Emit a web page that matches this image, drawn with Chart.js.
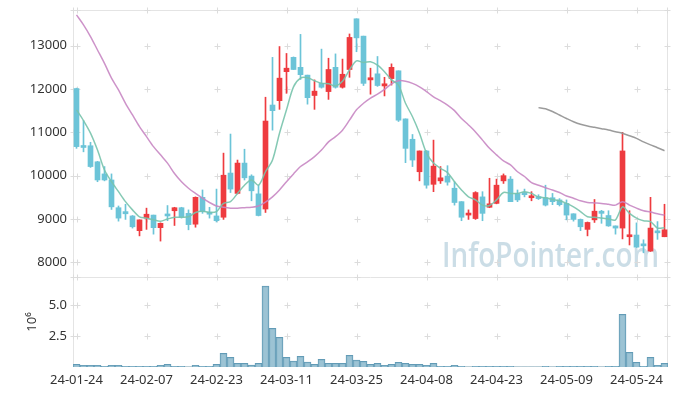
<!DOCTYPE html>
<html><head><meta charset="utf-8">
<script src="https://cdn.jsdelivr.net/npm/chart.js@4/dist/chart.umd.min.js"></script>
<style>html,body{margin:0;padding:0;background:#fff;}#wrap{width:677px;height:396px;}</style>
</head><body><div id="wrap"><canvas id="c" width="677" height="396"></canvas></div>
<script>
const dates = [
 '24-01-24','24-01-25','24-01-26','24-01-29','24-01-30','24-01-31',
 '24-02-01','24-02-02','24-02-05','24-02-06','24-02-07','24-02-08','24-02-13','24-02-14','24-02-15','24-02-16',
 '24-02-19','24-02-20','24-02-21','24-02-22','24-02-23','24-02-26','24-02-27','24-02-28','24-02-29',
 '24-03-04','24-03-05','24-03-06','24-03-07','24-03-08','24-03-11','24-03-12','24-03-13','24-03-14','24-03-15',
 '24-03-18','24-03-19','24-03-20','24-03-21','24-03-22','24-03-25','24-03-26','24-03-27','24-03-28','24-03-29',
 '24-04-01','24-04-02','24-04-03','24-04-04','24-04-05','24-04-08','24-04-09','24-04-11','24-04-12',
 '24-04-15','24-04-16','24-04-17','24-04-18','24-04-19','24-04-22','24-04-23','24-04-24','24-04-25','24-04-26',
 '24-04-29','24-04-30','24-05-02','24-05-03','24-05-07','24-05-08','24-05-09','24-05-10','24-05-13','24-05-14',
 '24-05-16','24-05-17','24-05-20','24-05-21','24-05-22','24-05-23','24-05-24','24-05-27','24-05-28','24-05-29','24-05-30'];
const openP  = [12010,10690,10690,10320,10040,9900,9260,9170,9070,8730,9020,9090,8800,9090,9190,9260,9130,8880,9500,9160,9070,
 9040,10060,9590,10290,9990,9580,9230,11630,11730,12400,12730,12500,12320,11850,12130,11940,12500,12040,12450,13620,
 13220,12210,12350,12070,12240,12420,11310,10840,10090,10570,9800,9880,9990,9710,9400,9090,9010,9510,9270,9360,
 9880,9920,9590,9610,9490,9510,9490,9490,9440,9360,9120,8990,8760,8980,9180,9080,8840,8790,8590,8630,8420,8260,8720,8590];
const highP  = [12020,11270,10770,10330,10210,10040,9300,9340,9080,8980,9250,9090,8910,9310,9270,9270,9210,9510,9670,9270,9690,
 10520,10960,10360,10610,10020,9780,11810,12730,12980,12820,12740,13260,12320,12210,12920,12710,12810,12690,13270,13620,
 13220,12480,12750,12270,12580,12420,11310,10950,10570,10580,10820,10210,10230,9860,9400,9210,9630,9630,9940,9920,
 10040,9980,9670,9690,9630,9560,9780,9590,9470,9440,9120,9000,8930,9450,9200,9190,8840,11000,9190,8910,8520,9500,8940,9340];
const lowP   = [10630,10550,10190,9860,9880,9220,8950,8990,8790,8610,8760,8650,8490,8960,8850,9020,8750,8810,9130,9020,8930,
 8990,9610,9580,9900,9420,9070,9150,11050,11530,11900,12450,12220,11650,11530,12020,11760,12020,12020,12270,12860,
 12080,11880,12060,11840,12090,11250,10300,10210,9880,9710,9630,9820,9780,9320,8960,8990,8990,8960,9260,9350,
 9820,9400,9400,9510,9420,9450,9300,9330,9300,8980,8950,8730,8610,8920,8900,8830,8650,8540,8400,8340,8220,8250,8530,8590];
const closeP = [10670,10650,10210,9900,9900,9280,9020,9120,8820,8980,9110,8800,8900,9070,9260,9040,8870,9500,9170,9110,8960,
 10010,9690,10290,9950,9650,9080,11260,11500,12250,12480,12450,12330,11800,11950,12040,12450,12040,12340,13190,13180,
 12130,12260,12080,12120,12500,11280,10630,10360,10570,9780,10220,9950,9850,9380,9040,9130,9610,9130,9350,9780,
 10000,9400,9440,9560,9530,9470,9320,9400,9330,9090,8990,8820,8920,9180,9130,8840,8790,10570,8630,8350,8380,8790,8680,8750];
const ma5  = [11520,11270,10980,10590,10130,9860,9630,9400,9210,9050,9020,8980,8950,9000,9040,9040,9050,9150,9180,9150,9170,
 9360,9400,9590,9780,9900,9780,10090,10360,10980,11520,12050,12250,12260,12190,12130,12120,12070,12180,12440,12650,
 12610,12630,12550,12400,12210,12090,11670,11360,10980,10520,10290,10170,10070,9860,9670,9510,9440,9320,9310,9440,
 9610,9590,9590,9630,9590,9510,9490,9450,9420,9360,9280,9170,9050,9040,9020,9000,8980,9280,9130,9020,8960,8940,8790,8800];
const ma20 = [13710,13480,13210,12900,12590,12250,11980,11670,11400,11130,10900,10670,10480,10290,10050,9860,9710,9590,9480,9380,9300,
 9270,9250,9250,9260,9270,9300,9390,9510,9670,9860,10040,10210,10320,10440,10590,10780,10900,11050,11280,11520,
 11670,11790,11880,11990,12120,12190,12180,12130,12050,11940,11820,11730,11630,11500,11320,11170,11010,10820,10630,10480,
 10340,10250,10090,9980,9840,9780,9720,9670,9610,9530,9480,9420,9380,9370,9360,9340,9320,9400,9320,9250,9190,9160,9120,9090];
const ma60 = [null,null,null,null,null,null,null,null,null,null,null,null,null,null,null,null,null,null,null,null,null,
 null,null,null,null,null,null,null,null,null,null,null,null,null,null,null,null,null,null,null,null,
 null,null,null,null,null,null,null,null,null,null,null,null,null,null,null,null,null,null,null,null,
 null,null,null,null,null,11570,11545,11480,11400,11320,11245,11185,11145,11115,11085,11055,11015,10980,10920,10860,10780,10710,10645,10575];
const volume = [0.22,0.14,0.14,0.14,0.06,0.14,0.14,0.06,0.06,0.06,0.06,0.06,0.14,0.22,0.06,0.06,0.02,0.14,0.06,0.06,0.22,
 1.10,0.78,0.30,0.30,0.16,0.30,6.53,3.12,2.39,0.78,0.48,0.86,0.40,0.22,0.62,0.30,0.30,0.30,0.94,0.56,
 0.46,0.22,0.30,0.14,0.22,0.38,0.30,0.22,0.22,0.14,0.30,0.06,0.06,0.14,0.06,0.02,0.06,0.06,0.06,0.06,
 0.06,0.06,0.01,0.01,0.01,0.01,0.06,0.01,0.06,0.06,0.06,0.06,0.06,0.06,0.01,0.06,0.06,4.25,1.18,0.38,0.06,0.78,0.14,0.30];
const priceTicks = [8000,9000,10000,11000,12000,13000];
const volTicks = [2.5,5.0];
const labelStep = 10;

const UP = '#ee3b3f', DOWN = '#6cc4d8';
const candleColors = closeP.map((c,i)=> c >= openP[i] ? UP : DOWN);
const FONT = {family:'"Noto Sans", sans-serif', size:13};

const framePlugin = {
  id:'frame',
  beforeDatasetsDraw(chart){
    const ctx = chart.ctx, a = chart.chartArea, sx = chart.scales.x, sy = chart.scales.y, sv = chart.scales.yVol;
    ctx.save();
    ctx.font = '600 34px "Open Sans", sans-serif';
    ctx.fillStyle = 'rgba(168,198,214,0.6)';
    ctx.textBaseline = 'alphabetic';
    const txt = 'InfoPointer.com';
    const w = ctx.measureText(txt).width;
    ctx.translate(442, 267);
    ctx.scale(217 / w, 1);
    ctx.fillText(txt, 0, 0);
    ctx.restore();
    ctx.save();
    ctx.strokeStyle = '#e4e4e4'; ctx.lineWidth = 1;
    const L = Math.round(a.left)+0.5, R = Math.round(a.right)-0.5, T = Math.round(a.top)+0.5, B = Math.round(a.bottom)-0.5, M = Math.round(sy.bottom)+0.5;
    ctx.beginPath();
    ctx.moveTo(L,T); ctx.lineTo(R,T); ctx.lineTo(R,B); ctx.lineTo(L,B); ctx.closePath();
    ctx.moveTo(L,M); ctx.lineTo(R,M);
    ctx.stroke();
    const xs = [L, R];
    dates.forEach((d,i)=>{ if(i % labelStep === 0) xs.push(Math.round(sx.getPixelForValue(i))+0.5); });
    const ys = [T, M];
    priceTicks.forEach(v=>ys.push(Math.round(sy.getPixelForValue(v))+0.5));
    volTicks.forEach(v=>ys.push(Math.round(sv.getPixelForValue(v))+0.5));
    ctx.strokeStyle = '#dcdcdc';
    ctx.beginPath();
    xs.forEach(x=>ys.forEach(y=>{ ctx.moveTo(x-3,y); ctx.lineTo(x+3,y); ctx.moveTo(x,y-3); ctx.lineTo(x,y+3); }));
    ctx.stroke();
    ctx.restore();
  }
};

const fitY = s => { s.width = 73; s.paddingTop = 0; s.paddingBottom = 0; };

new Chart(document.getElementById('c'), {
  type:'bar',
  data:{
    labels: dates,
    datasets:[
      {type:'line', label:'MA5', data:ma5, yAxisID:'y', borderColor:'rgba(120,195,172,0.9)', borderWidth:1.5, pointRadius:0, tension:0.3, order:0},
      {type:'line', label:'MA20', data:ma20, yAxisID:'y', borderColor:'rgba(200,135,195,0.9)', borderWidth:1.5, pointRadius:0, tension:0.3, order:0},
      {type:'line', label:'MA60', data:ma60, yAxisID:'y', borderColor:'rgba(150,150,150,0.95)', borderWidth:1.5, pointRadius:0, tension:0.3, order:0},
      {label:'body', data:dates.map((d,i)=>[openP[i], closeP[i]]), yAxisID:'y', backgroundColor:candleColors, barThickness:5, grouped:false, minBarLength:2, order:1},
      {label:'wick', data:dates.map((d,i)=>[lowP[i], highP[i]]), yAxisID:'y', backgroundColor:candleColors, barThickness:1, grouped:false, order:2},
      {label:'volume', data:volume, yAxisID:'yVol', backgroundColor:'rgba(145,188,207,0.9)', borderColor:'rgba(90,150,178,0.95)', borderWidth:1, barPercentage:1, categoryPercentage:1, grouped:false, order:3}
    ]
  },
  options:{
    responsive:false, animation:false, devicePixelRatio:1,
    layout:{padding:{top:10,right:9,left:0,bottom:0}},
    plugins:{legend:{display:false}, tooltip:{enabled:false}},
    scales:{
      x:{type:'category', offset:true, grid:{display:false, drawTicks:false}, border:{display:false},
         ticks:{autoSkip:false, maxRotation:0, minRotation:0, padding:5, color:'#333', font:FONT,
                callback:(v,i)=> i % labelStep === 0 ? dates[i] : ''},
         afterFit:s=>{s.height=29; s.paddingLeft=0; s.paddingRight=0;}},
      yVol:{type:'linear', position:'left', stack:'main', stackWeight:90, min:0, max:7.26,
         grid:{display:false, drawTicks:false}, border:{display:false},
         afterBuildTicks:s=>{s.ticks = volTicks.map(v=>({value:v}));},
         ticks:{padding:6, color:'#333', font:FONT, callback:v=>Number(v).toFixed(1)},
         title:{display:true, text:'10\u2076', color:'#333', font:FONT, padding:{top:24,bottom:0}},
         afterFit:fitY},
      y:{type:'linear', position:'left', stack:'main', stackWeight:267, min:7661, max:13823,
         grid:{display:false, drawTicks:false}, border:{display:false},
         afterBuildTicks:s=>{s.ticks = priceTicks.map(v=>({value:v}));},
         ticks:{padding:6, color:'#333', font:FONT, callback:v=>String(v)},
         afterFit:fitY}
    }
  },
  plugins:[framePlugin]
});
</script></body></html>
